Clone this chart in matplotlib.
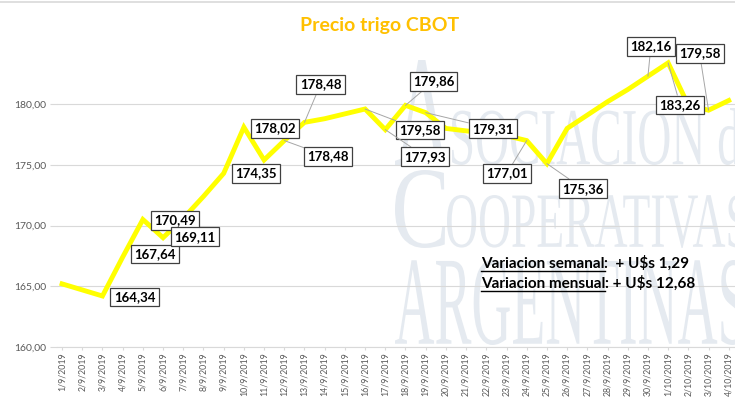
import matplotlib
matplotlib.use("Agg")
import matplotlib.pyplot as plt
from matplotlib.ticker import FuncFormatter
from matplotlib.textpath import TextPath
from matplotlib.patches import PathPatch
from matplotlib.font_manager import FontProperties
from matplotlib.transforms import Affine2D
from matplotlib.lines import Line2D

# fechas (eje x)
fechas = [f"{d}/9/2019" for d in range(1, 31)] + [f"{d}/10/2019" for d in range(1, 5)]

# precio trigo CBOT (U$s/tn)
precio = [165.2, 164.7, 164.2, 167.4, 170.5, 169.0, 170.6, 172.4, 174.3, 178.1,
          175.4, 177.0, 178.5, 178.8, 179.2, 179.6, 177.9, 179.9, 179.3, 178.0,
          177.8, 177.6, 177.4, 177.0, 175.1, 178.0, 179.1, 180.2, 181.2, 182.3,
          183.4, 179.9, 179.5, 180.3]

# etiquetas de datos: indice del punto y texto
etiqueta_idx = [2, 3, 4, 5, 8, 9, 11, 12, 15, 16, 17, 18, 23, 24, 29, 30, 32]
etiqueta_txt = ["164,34", "167,64", "170,49", "169,11", "174,35", "178,02",
                "178,48", "178,48", "179,58", "177,93", "179,86", "179,31",
                "177,01", "175,36", "182,16", "183,26", "179,58"]
# desplazamiento de cada caja (px) y si lleva linea guia
etiqueta_off = [(32, -1), (32, 3), (32, -1), (32, 1), (32, 0), (31, -1),
                (44, -16), (16, 38), (55, -21), (40, -27), (28, 24), (67, -16),
                (-20, -33), (36, -25), (3, 30), (12, -42), (-9, 57)]
etiqueta_guia = [False] * 6 + [True] * 11

var_semanal = "+ U\\$s 1,29"
var_mensual = "+ U\\$s 12,68"

W, H = 735, 401
fig = plt.figure(figsize=(W / 100, H / 100), dpi=100)
fig.patch.set_facecolor("white")

# marca de agua
def marca(texto, x0, x1, ytop, ybot, color="#E5EAF0"):
    tp = TextPath((0, 0), texto, size=1, prop=FontProperties(family="Liberation Serif"))
    ext = tp.get_extents()
    sx = (x1 - x0) / ext.width
    sy = (ybot - ytop) / ext.height
    tr = Affine2D().translate(-ext.x0, -ext.y0).scale(sx, sy).translate(x0, H - ybot)
    p = PathPatch(tr.transform_path(tp), facecolor=color, edgecolor="none",
                  transform=None, zorder=-5)
    fig.add_artist(p)

marca("A", 395, 450, 60, 165)
marca("SOCIACION de", 452, 760, 108, 165)
marca("C", 395, 445, 170, 248)
marca("OOPERATIVAS", 447, 748, 195, 248)
marca("ARGENTINAS", 395, 745, 260, 345)

fig.add_artist(Line2D([0, 1], [1 - 2 / H, 1 - 2 / H], color="#D9D9D9", lw=1.2))

ax = fig.add_axes([57 / W, (H - 347) / H, (W - 57) / W, (347 - 7) / H])
ax.patch.set_alpha(0)
x = list(range(len(fechas)))
ax.plot(x, precio, color="#FFFF00", lw=3.5, solid_joinstyle="miter", zorder=3)

ax.set_xlim(-0.25, 33.31)
ax.set_ylim(160, 188)
ax.set_yticks([160, 165, 170, 175, 180])
ax.yaxis.set_major_formatter(FuncFormatter(lambda v, p: f"{v:.2f}".replace(".", ",")))
ax.set_xticks(x)
ax.set_xticklabels(fechas, rotation=90)
ax.yaxis.grid(True, color="#D9D9D9", lw=0.8, zorder=0)
for s in ["top", "right", "left"]:
    ax.spines[s].set_visible(False)
ax.spines["bottom"].set_color("#D9D9D9")
ax.tick_params(axis="y", length=5, color="#D9D9D9", labelcolor="#595959",
               labelsize=7.5, pad=3)
ax.tick_params(axis="x", length=2, color="#D9D9D9", labelcolor="#595959",
               labelsize=6.3, pad=2)
for t in ax.get_xticklabels() + ax.get_yticklabels():
    t.set_fontfamily("Lato")

for i, txt, off, guia in zip(etiqueta_idx, etiqueta_txt, etiqueta_off, etiqueta_guia):
    props = dict(arrowstyle="-", color="#A6A6A6", lw=0.7, shrinkA=0, shrinkB=0) if guia else None
    ax.annotate(txt, (i, precio[i]), xytext=off, textcoords="offset pixels",
                ha="center", va="center", fontsize=9.5, fontweight="bold",
                family="Lato", color="black", arrowprops=props, zorder=5,
                bbox=dict(boxstyle="square,pad=0.25", fc="white", ec="#404040", lw=0.9))

fig.text(380 / W, 1 - 25 / H, "Precio trigo CBOT", ha="center", va="center",
         fontsize=14, fontweight="bold", color="#FFC000", family="Lato")

# variaciones con subrayado
fig.canvas.draw()
r = fig.canvas.get_renderer()
for (lab, val, yb) in [("Variacion semanal", ":  " + var_semanal, 268),
                       ("Variacion mensual", ": " + var_mensual, 288)]:
    t1 = fig.text(481 / W, 1 - yb / H, lab, ha="left", va="baseline",
                  fontsize=11, fontweight="bold", family="Lato")
    bb = t1.get_window_extent(r)
    fig.text(bb.x1 / W, 1 - yb / H, val, ha="left", va="baseline",
             fontsize=11, fontweight="bold", family="Lato")
    yl = 1 - (yb + 2.5) / H
    fig.add_artist(Line2D([bb.x0 / W, bb.x1 / W], [yl, yl], color="black", lw=1.0))

fig.savefig("out.png", dpi=100)
